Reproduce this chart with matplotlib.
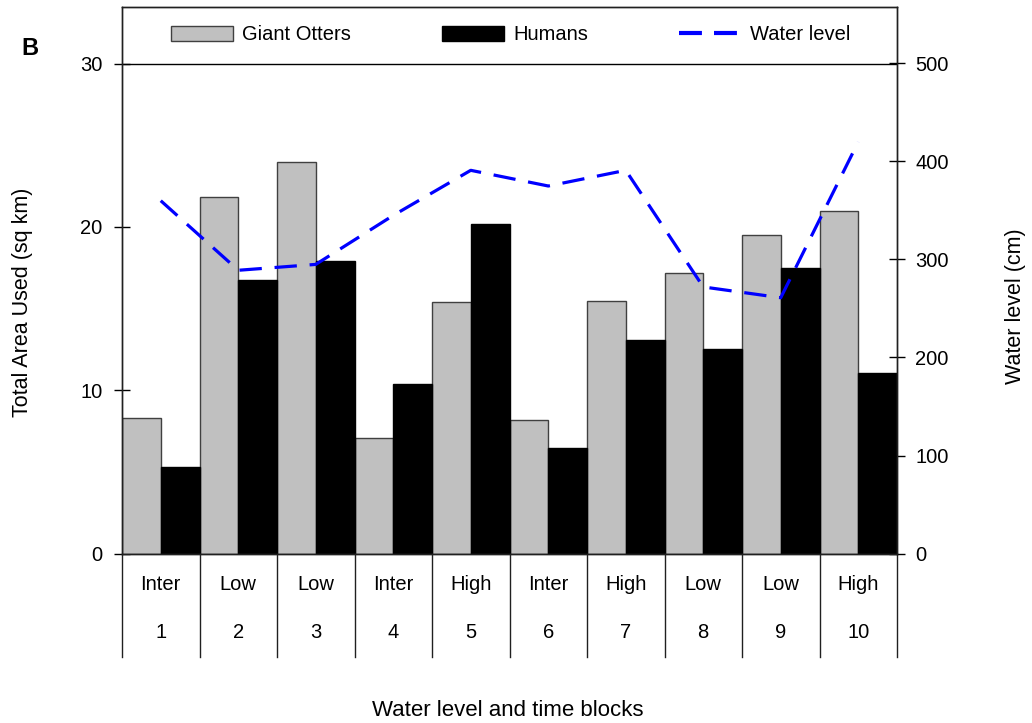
import matplotlib
matplotlib.use("Agg")
import matplotlib.pyplot as plt
import matplotlib.transforms as mtransforms
from matplotlib.patches import Patch
from matplotlib.lines import Line2D
import numpy as np

plt.rcParams['font.family'] = ['Liberation Sans', 'DejaVu Sans']

levels = ["Inter", "Low", "Low", "Inter", "High", "Inter", "High", "Low", "Low", "High"]
blocks = ["1", "2", "3", "4", "5", "6", "7", "8", "9", "10"]
otters = [8.3, 21.8, 24.0, 7.07, 15.4, 8.2, 15.45, 17.2, 19.5, 21.0]
humans = [5.3, 16.77, 17.93, 10.38, 20.2, 6.46, 13.05, 12.5, 17.46, 11.05]
water = [360, 289, 295, 345, 391, 375, 391, 272, 261, 420]

FS = 14.5
fig = plt.figure(figsize=(10.32, 7.23), dpi=100)
ax = fig.add_axes([122/1032, 1-553.5/723, (897-122)/1032, (553.5-7)/723])
ax2 = ax.twinx()

x = np.arange(len(blocks))
ax.bar(x - 0.25, otters, width=0.5, color='#c0c0c0', edgecolor='#404040', linewidth=1.0, zorder=2)
ax.bar(x + 0.25, humans, width=0.5, color='black', edgecolor='black', linewidth=1.0, zorder=2)
ax.axhline(30, color='black', lw=1.0, zorder=1)

ymax = (553.5 - 7) / ((553.5 - 63.5) / 30)
ax.set_ylim(0, ymax)
ax.set_xlim(-0.5, len(blocks) - 0.5)
ax2.set_ylim(0, ymax * 500 / 30)

ax2.plot(x, water, color='#0000ff', lw=2.3, dashes=(7, 4), zorder=3)

ax.set_yticks([0, 10, 20, 30])
ax2.set_yticks([0, 100, 200, 300, 400, 500])
ax.set_xticks([])
ax.tick_params(axis='y', direction='inout', length=12, width=1, labelsize=FS, pad=8)
ax2.tick_params(axis='y', direction='inout', length=12, width=1, labelsize=FS, pad=7)
for a in (ax, ax2):
    for s in a.spines.values():
        s.set_linewidth(1.0)
        s.set_color('#202020')

# category table below axis
trans = mtransforms.blended_transform_factory(ax.transData, ax.transAxes)
bottom = -(657 - 553.5) / (553.5 - 7)
for b in np.arange(-0.5, len(blocks), 1.0):
    ax.plot([b, b], [0, bottom], transform=trans, color='#202020', lw=1.0, clip_on=False)
y1 = -(585 - 553.5) / (553.5 - 7)
y2 = -(633 - 553.5) / (553.5 - 7)
for i in range(len(blocks)):
    ax.text(x[i], y1, levels[i], transform=trans, ha='center', va='center', fontsize=FS)
    ax.text(x[i], y2, blocks[i], transform=trans, ha='center', va='center', fontsize=FS)

# labels
fig.text(23/1032, 1-302/723, "Total Area Used (sq km)", rotation=90, ha='center', va='center', fontsize=15.5)
fig.text(1015/1032, 1-306/723, "Water level (cm)", rotation=90, ha='center', va='center', fontsize=15.5)
fig.text(508/1032, 1-710/723, "Water level and time blocks", ha='center', va='center', fontsize=16)
fig.text(30/1032, 1-48.5/723, "B", ha='center', va='center', fontsize=17, fontweight='bold')

handles = [Patch(facecolor='#c0c0c0', edgecolor='#404040', linewidth=1.0),
           Patch(facecolor='black', edgecolor='black'),
           Line2D([], [], color='#0000ff', lw=3, dashes=(5.5, 2.9))]
leg = fig.legend(handles, ["Giant Otters", "Humans", "Water level"], ncol=3,
                 loc='center left', bbox_to_anchor=(171/1032, 1-35/723),
                 frameon=False, fontsize=FS, handlelength=3.1, handleheight=0.75,
                 handletextpad=0.45, columnspacing=4.5, borderpad=0, borderaxespad=0)

fig.savefig("out.png", dpi=100)
